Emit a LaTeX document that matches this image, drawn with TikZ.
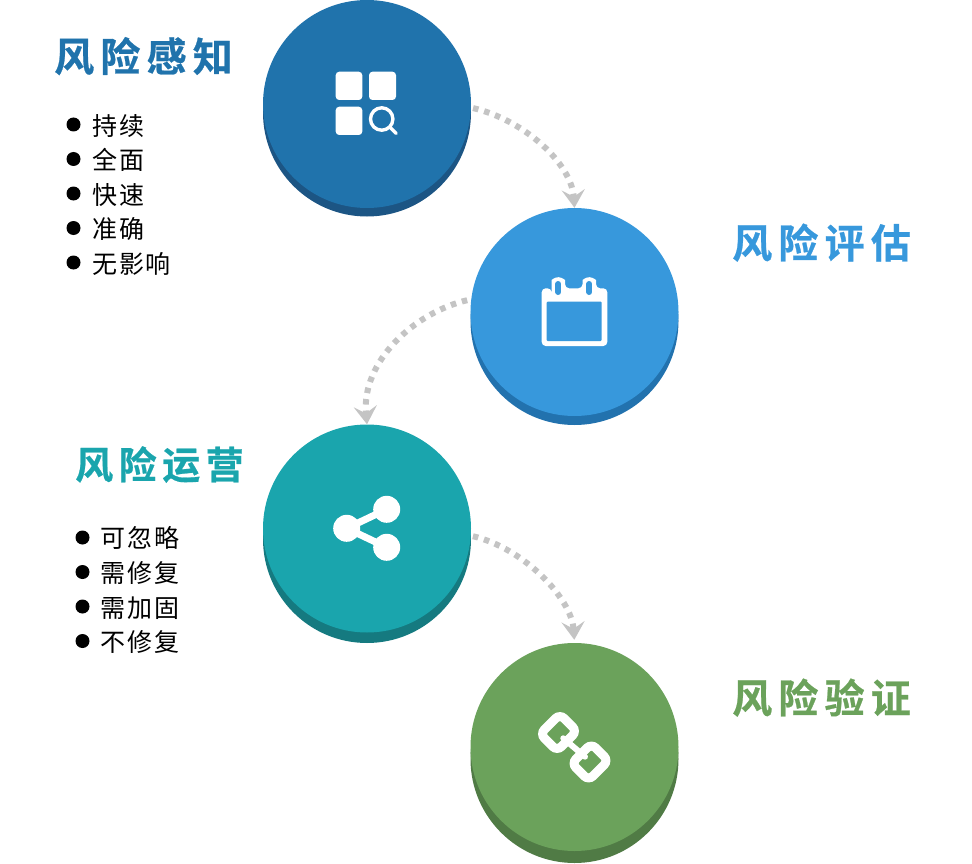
\documentclass[tikz,border=0pt]{standalone}
\usepackage{fontspec}
\usetikzlibrary{arrows.meta}
\newfontfamily\cjktitle[BoldFont={Noto Sans CJK SC Bold},BoldFeatures={FakeBold=0.6},LetterSpace=15.5]{Noto Sans CJK SC}
\newfontfamily\cjktitlesm[BoldFont={Noto Sans CJK SC Bold},BoldFeatures={FakeBold=0.6},LetterSpace=14.5]{Noto Sans CJK SC}
\newfontfamily\cjklist[LetterSpace=7.5]{Noto Sans CJK SC}
\definecolor{cA}{HTML}{2073AC}\definecolor{dA}{HTML}{1C5584}
\definecolor{cB}{HTML}{3798DC}\definecolor{dB}{HTML}{2272AE}
\definecolor{cC}{HTML}{1AA5AD}\definecolor{dC}{HTML}{157A80}
\definecolor{cD}{HTML}{6BA25B}\definecolor{dD}{HTML}{507B45}
\definecolor{flow}{HTML}{C4C4C4}
\tikzset{
  disc/.style={circle,inner sep=0pt,minimum size=208pt,fill=#1},
  title/.style={anchor=base west,inner sep=0pt,text=#1,font=\cjktitle\bfseries\fontsize{40pt}{40pt}\selectfont},
  titlesm/.style={anchor=base west,inner sep=0pt,text=#1,font=\cjktitlesm\bfseries\fontsize{38pt}{38pt}\selectfont},
  item/.style={anchor=base west,inner sep=0pt,text=black,font=\cjklist\fontsize{25pt}{25pt}\selectfont},
  dot/.style={circle,fill=black,inner sep=0pt,minimum size=14pt},
  flowline/.style={draw=flow,line width=6pt,dash pattern=on 5.5pt off 6pt,
    -{Stealth[length=18pt,width=23pt,inset=7pt,flow,fill=flow]}},
  ic/.style={fill=white,draw=none},
  icl/.style={draw=white,fill=none}
}
\begin{document}
\begin{tikzpicture}[x=1pt,y=-1pt]
\useasboundingbox (0,0) rectangle (972,864);
% discs
\node[disc=dA] (s1) at (367,112.5) {};
\node[disc=cA] (c1) at (367,104) {};
\node[disc=dB] (s2) at (574.5,321) {};
\node[disc=cB] (c2) at (574.5,312) {};
\node[disc=dC] (s3) at (367,539) {};
\node[disc=cC] (c3) at (367,528.5) {};
\node[disc=dD] (s4) at (574.5,759) {};
\node[disc=cD] (c4) at (574.5,747) {};
% connectors
\draw[flowline,shorten <=2pt] (c1.-2) .. controls +(52,12) and +(-3,-45) .. (c2.90);
\draw[flowline,shorten <=4pt] (c2.173) .. controls +(-56,13) and +(-6,-63) .. (c3.90);
\draw[flowline,shorten <=2pt,shorten >=3pt] (c3.-4) .. controls +(52,12) and +(-3,-45) .. (c4.90);
% titles
\node[title=cA] (t1) at (54,71.5) {风险感知};
\node[title=cB] (t2) at (732,258) {风险评估};
\node[titlesm=cC] (t3) at (75,479) {风险运营};
\node[title=cD] (t4) at (732,713) {风险验证};
% list one
\node[dot] (b11) at (73.5,124.5) {}; \node[item] (l11) at (92,135.5) {持续};
\node[dot] (b12) at (73.5,159) {}; \node[item] (l12) at (92,169.5) {全面};
\node[dot] (b13) at (73.5,193.5) {}; \node[item] (l13) at (92,204.5) {快速};
\node[dot] (b14) at (73.5,228) {}; \node[item] (l14) at (92,238.5) {准确};
\node[dot] (b15) at (73.5,262.5) {}; \node[item] (l15) at (92,273.5) {无影响};
% list two
\node[dot] (b21) at (82.5,537.5) {}; \node[item] (l21) at (100.5,547.5) {可忽略};
\node[dot] (b22) at (82.5,572) {}; \node[item] (l22) at (100.5,582.5) {需修复};
\node[dot] (b23) at (82.5,606.5) {}; \node[item] (l23) at (100.5,617) {需加固};
\node[dot] (b24) at (82.5,641) {}; \node[item] (l24) at (100.5,651.5) {不修复};
% icon 1
\fill[ic,rounded corners=3.5pt] (335.7,71.7) rectangle (362.3,100);
\fill[ic,rounded corners=3.5pt] (369,71.7) rectangle (396,100);
\fill[ic,rounded corners=3.5pt] (335.7,106.7) rectangle (362.3,135);
\draw[icl,line width=3.4pt] (381.7,119) circle (11.2pt);
\draw[icl,line width=3.4pt,line cap=round] (390.2,127.5) -- (396.2,133.5);
% icon 2
\fill[ic,rounded corners=4pt] (551.5,300) -- (551.5,284) arc[start angle=180,end angle=0,radius=6.8pt] -- (565.1,288.3) -- (582.5,288.3) -- (582.5,284) arc[start angle=180,end angle=0,radius=6.8pt] -- (596.1,288.3) -- (607.3,288.3) -- (607.3,346) -- (541.7,346) -- (541.7,288.3) -- (551.5,288.3) -- cycle;
\fill[cB,rounded corners=1pt] (546.7,301.7) rectangle (601.7,341);
\draw[cB,line width=6pt,line cap=round] (558.3,284) -- (558.3,292);
\draw[cB,line width=6pt,line cap=round] (589.3,284) -- (589.3,292);
% icon 3
\draw[icl,line width=7pt] (346.7,528.3) -- (386.7,509.3);
\draw[icl,line width=7pt] (346.7,528.3) -- (386.7,547.3);
\fill[ic] (346.7,528.3) circle (13.5pt);
\fill[ic] (386.7,509.3) circle (13.5pt);
\fill[ic] (386.7,547.3) circle (13.5pt);
% icon 4
\draw[icl,line width=9pt,rounded corners=6pt,rotate around={45:(558.5,732.5)}] (544.5,720.5) rectangle (572.5,744.5);
\draw[icl,line width=9pt,rounded corners=6pt,rotate around={45:(590,762)}] (576,750) rectangle (604,774);
\draw[icl,line width=6pt,line cap=round] (563.3,738.3) -- (585,756.7);
\end{tikzpicture}
\end{document}
